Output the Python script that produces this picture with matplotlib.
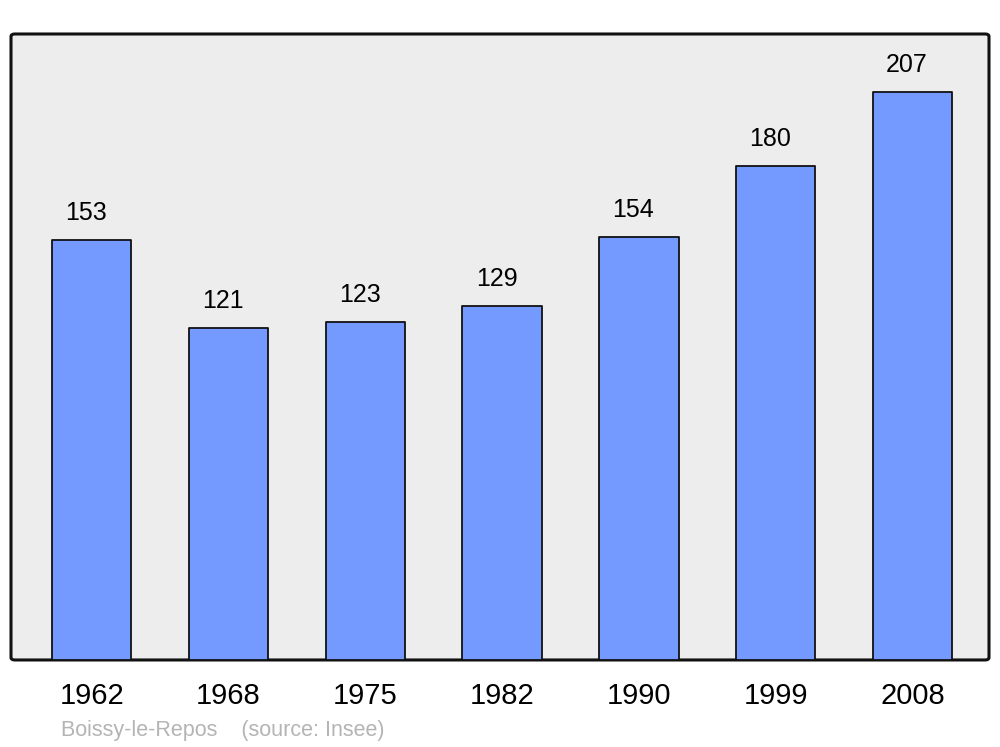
import matplotlib.pyplot as plt
from matplotlib.patches import FancyBboxPatch

years = ["1962", "1968", "1975", "1982", "1990", "1999", "2008"]
population = [153, 121, 123, 129, 154, 180, 207]

plt.rcParams["font.family"] = ["Liberation Sans", "DejaVu Sans"]

fig = plt.figure(figsize=(10, 7.47), dpi=100)
ax = fig.add_axes([0.011, 0.1165, 0.978, 0.838])
ax.set_facecolor("none")

# rounded frame behind the bars
frame = FancyBboxPatch((0, 0), 1, 1, boxstyle="round,pad=0,rounding_size=0.004",
                       transform=ax.transAxes, facecolor="#ededed",
                       edgecolor="#111111", linewidth=2.2, zorder=0, clip_on=False)
ax.add_patch(frame)

x = range(len(years))
bars = ax.bar(x, population, width=0.58, color="#7499ff", edgecolor="#111111",
              linewidth=1.3, zorder=2)
for b in bars:
    b.set_joinstyle("round")

for xi, v in zip(x, population):
    ax.annotate(str(v), (xi, v), xytext=(-4, 11), textcoords="offset points",
                ha="center", va="bottom", fontsize=18)

ax.set_xlim(-0.59, 6.56)
ax.set_ylim(0, 228.1)
ax.set_xticks(list(x))
ax.set_xticklabels(years, fontsize=21)
ax.tick_params(axis="x", length=0, pad=16)
ax.set_yticks([])
for s in ax.spines.values():
    s.set_visible(False)

fig.text(0.061, 0.015, "Boissy-le-Repos    (source: Insee)", fontsize=15.5,
         color="#b4b4b4", ha="left", va="baseline")

fig.savefig("out.png", dpi=100)
